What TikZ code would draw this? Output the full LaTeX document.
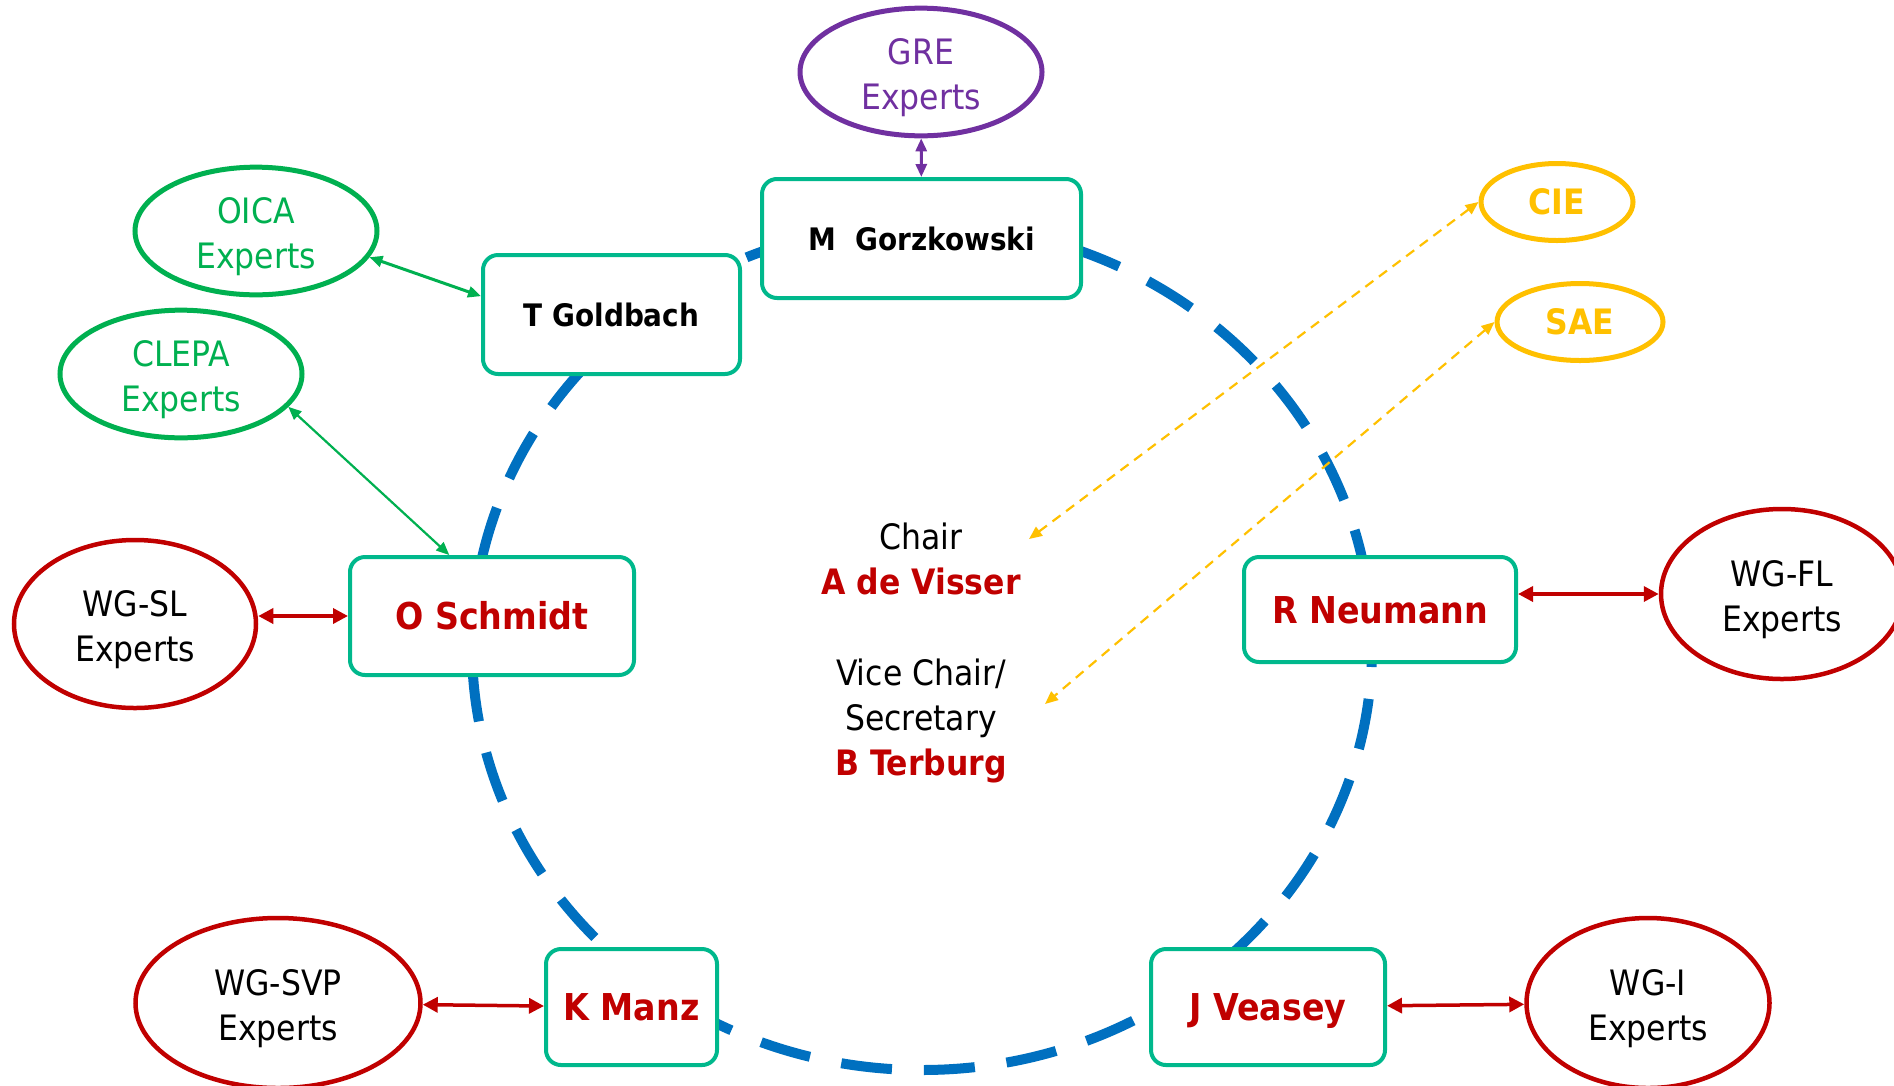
\documentclass[tikz,border=0pt]{standalone}
\usepackage{fontspec}
\setmainfont{DejaVu Sans Condensed}
\usetikzlibrary{shapes.geometric,arrows.meta}

\definecolor{boxgreen}{RGB}{0,184,140}
\definecolor{expgreen}{RGB}{0,176,80}
\definecolor{wgred}{RGB}{192,0,0}
\definecolor{grepurple}{RGB}{112,48,160}
\definecolor{orgyellow}{RGB}{255,192,0}
\definecolor{ringblue}{RGB}{0,112,192}

\newcommand{\lowtext}{\rule{0pt}{38pt}}

\tikzset{
    member/.style={draw=boxgreen, line width=4pt, rounded corners=15pt, fill=white,
        inner sep=0pt, text height=27pt, text depth=0pt,
        text=wgred, font=\fontsize{37}{44}\selectfont\bfseries},
    chairbox/.style={member, text=black, text height=23pt, font=\fontsize{31}{38}\selectfont\bfseries},
    experts/.style={ellipse, draw, line width=4.5pt, fill=white, align=center,
        inner sep=0pt, font=\fontsize{35}{45}\selectfont},
    link/.style={{Triangle[length=15pt,width=15pt]}-{Triangle[length=15pt,width=15pt]},
        line width=3.5pt, wgred},
    thinlink/.style={{Triangle[length=13pt,width=11pt]}-{Triangle[length=13pt,width=11pt]},
        line width=2.5pt},
}

\begin{document}
\begin{tikzpicture}[x=1pt, y=-1pt]
        \useasboundingbox (0,0) rectangle (1894,1085);

        % dashed ring
        \draw[ringblue, line width=10pt, dash pattern=on 51pt off 32pt, dash phase=31pt]
            (922,647) ellipse [x radius=450, y radius=423];

        \node[chairbox, minimum width=319pt, minimum height=119pt] (mgorz) at (921.5,238.5) {M~~Gorzkowski};
        \node[chairbox, minimum width=257pt, minimum height=119pt] (tgold) at (611.5,314.5) {T Goldbach};
        \node[member, minimum width=284pt, minimum height=118pt] (oschmidt) at (492,616) {O Schmidt};
        \node[member, minimum width=272pt, minimum height=105pt] (rneumann) at (1380,609.5) {R Neumann};
        \node[member, minimum width=171pt, minimum height=116pt] (kmanz) at (631.5,1007) {K Manz};
        \node[member, minimum width=234pt, minimum height=116pt] (jveasey) at (1268,1007) {J Veasey};

        \node[experts, draw=grepurple, text=grepurple, line width=5pt,
            minimum width=242pt, minimum height=122pt] (gre) at (921,72) {\lowtext GRE\\Experts};
        \node[experts, draw=expgreen, text=expgreen, line width=5pt,
            minimum width=242pt, minimum height=120pt] (oica) at (256,231) {\lowtext OICA\\Experts};
        \node[experts, draw=expgreen, text=expgreen, line width=5pt,
            minimum width=242pt, minimum height=122pt] (clepa) at (181,374) {\lowtext CLEPA\\Experts};
        \node[experts, draw=wgred, minimum width=242pt, minimum height=168pt] (wgsl) at (135,624) {\lowtext WG-SL\\Experts};
        \node[experts, draw=wgred, minimum width=242pt, minimum height=170pt] (wgfl) at (1782,594) {\lowtext WG-FL\\Experts};
        \node[experts, draw=wgred, minimum width=285pt, minimum height=170pt] (wgsvp) at (278,1003) {\lowtext WG-SVP\\Experts};
        \node[experts, draw=wgred, minimum width=243pt, minimum height=170pt] (wgi) at (1648,1003) {\lowtext WG-I\\Experts};
        \node[experts, draw=orgyellow, text=orgyellow, line width=5pt, font=\fontsize{35}{44}\selectfont\bfseries,
            minimum width=152pt, minimum height=77pt] (cie) at (1557,202) {CIE};
        \node[experts, draw=orgyellow, text=orgyellow, line width=5pt, font=\fontsize{35}{44}\selectfont\bfseries,
            minimum width=166pt, minimum height=77pt] (sae) at (1580,322) {SAE};

        \node[align=center, font=\fontsize{35}{45}\selectfont] (chair) at (921,559)
            {Chair\\{\color{wgred}\bfseries A de Visser}};
        \node[align=center, font=\fontsize{35}{45}\selectfont] (vice) at (921,721)
            {Vice Chair/\\Secretary\\{\color{wgred}\bfseries B Terburg}};
        \coordinate (chairtip) at (1029,539);
        \coordinate (vicetip) at (1045,704);

        % connectors
        \draw[thinlink, grepurple, line width=3pt] (gre) -- (mgorz);
        \draw[thinlink, expgreen, line width=3pt] (oica.-13) -- (tgold.172);
        \draw[thinlink, expgreen, line width=2.2pt] (clepa.-17) -- (oschmidt.125);
        \draw[link] (wgsl.east |- oschmidt.west) -- (oschmidt.west);
        \draw[link] (rneumann.east |- wgfl.west) -- (wgfl.west);
        \draw[link] (wgsvp) -- (kmanz);
        \draw[link] (jveasey) -- (wgi);
        \draw[thinlink, orgyellow, line width=2.2pt, dash pattern=on 10pt off 7pt] (cie.west) -- (chairtip);
        \draw[thinlink, orgyellow, line width=2.2pt, dash pattern=on 10pt off 7pt] (sae.west) -- (vicetip);

    \end{tikzpicture}
\end{document}
